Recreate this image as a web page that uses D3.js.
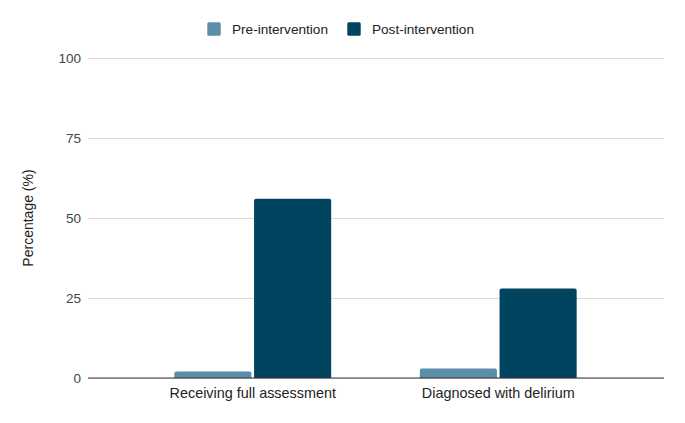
<!DOCTYPE html>
<html lang="en">
<head>
  <meta charset="UTF-8">
  <title>Pre vs post intervention</title>
  <style>
    body { margin: 0; background: #fff; }
    svg { display: block; }
  </style>
</head>
<body>
  <svg width="685" height="423"></svg>
  <script src="https://d3js.org/d3.v7.min.js"></script>
  <script>
    var categories = ['Receiving full assessment', 'Diagnosed with delirium'];
    var seriesNames = ['Pre-intervention', 'Post-intervention'];
    var preValues = [2, 3];
    var postValues = [56, 28];
    var yTicks = [0, 25, 50, 75, 100];

    var colors = ['#5b8fa9', '#00445f'];
    var font = '"Liberation Sans", Arial, sans-serif';
    var plot = { left: 88, right: 664, top: 58, bottom: 378 };

    var data = categories.map((c, i) => ({ cat: c, values: [preValues[i], postValues[i]] }));

    var svg = d3.select('svg');

    var x0 = d3.scaleBand()
      .domain(categories)
      .range([130, 621])
      .paddingInner(0)
      .paddingOuter(0);
    var x1 = d3.scaleBand()
      .domain(seriesNames)
      .range([0, x0.bandwidth()])
      .paddingOuter(0.556)
      .paddingInner(0.033);
    var y = d3.scaleLinear()
      .domain([0, 100])
      .range([plot.bottom, plot.top]);

    // gridlines + y labels
    var yAxis = d3.axisLeft(y)
      .tickValues(yTicks)
      .tickSize(plot.right - plot.left)
      .tickPadding(7)
      .tickFormat(d3.format('d'));
    var gy = svg.append('g')
      .attr('transform', 'translate(' + plot.right + ',0)')
      .call(yAxis);
    gy.select('.domain').remove();
    gy.selectAll('line').attr('stroke', '#d9d9d9');
    gy.selectAll('text')
      .attr('font-family', font)
      .attr('font-size', 13.5)
      .attr('fill', '#444');

    // bars
    svg.append('g').selectAll('g')
      .data(data)
      .join('g')
      .attr('transform', d => 'translate(' + x0(d.cat) + ',0)')
      .selectAll('path')
      .data(d => d.values.map((v, i) => ({ key: seriesNames[i], value: v, i: i })))
      .join('path')
      .attr('fill', d => colors[d.i])
      .attr('d', d => {
        var x = x1(d.key), w = x1.bandwidth(), top = y(d.value), b = y(0), r = 2;
        return 'M' + x + ',' + b + 'V' + (top + r) + 'Q' + x + ',' + top + ' ' + (x + r) + ',' + top +
          'H' + (x + w - r) + 'Q' + (x + w) + ',' + top + ' ' + (x + w) + ',' + (top + r) + 'V' + b + 'Z';
      });

    // baseline
    svg.append('line')
      .attr('x1', plot.left).attr('x2', plot.right)
      .attr('y1', y(0)).attr('y2', y(0))
      .attr('stroke', '#333');

    // x labels
    var xAxis = d3.axisBottom(x0).tickSize(0).tickPadding(9.5);
    var gx = svg.append('g')
      .attr('transform', 'translate(0,' + y(0) + ')')
      .call(xAxis);
    gx.select('.domain').remove();
    gx.selectAll('text')
      .attr('font-family', font)
      .attr('font-size', 14.4)
      .attr('fill', '#222');

    // y title
    svg.append('text')
      .attr('transform', 'translate(33,' + ((plot.top + plot.bottom) / 2) + ') rotate(-90)')
      .attr('text-anchor', 'middle')
      .attr('font-family', font)
      .attr('font-size', 14)
      .attr('fill', '#222')
      .text('Percentage (%)');

    // legend
    var legendX = [207.3, 347.3];
    var legend = svg.append('g').selectAll('g')
      .data(seriesNames)
      .join('g')
      .attr('transform', (d, i) => 'translate(' + legendX[i] + ',22.3)');
    legend.append('rect')
      .attr('width', 13.4).attr('height', 13.4).attr('rx', 1.5)
      .attr('fill', (d, i) => colors[i]);
    legend.append('text')
      .attr('x', 24.7).attr('y', 11.7)
      .attr('font-family', font)
      .attr('font-size', 13.6)
      .attr('fill', '#222')
      .text(d => d);
  </script>
</body>
</html>
